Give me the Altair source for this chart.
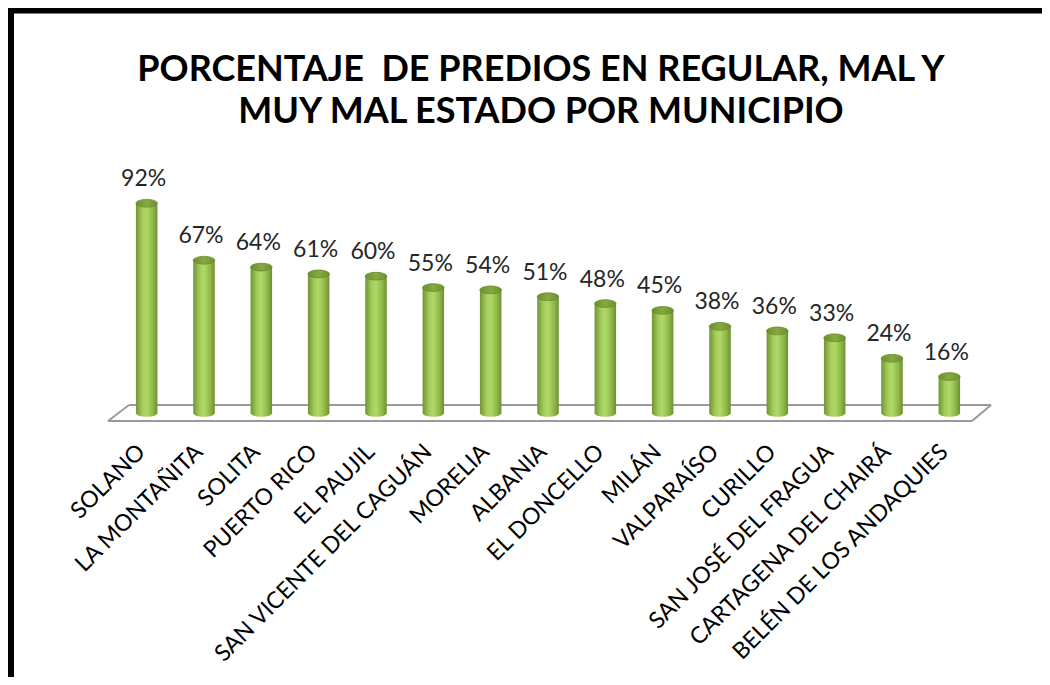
import altair as alt
import pandas as pd

municipios = ["SOLANO", "LA MONTAÑITA", "SOLITA", "PUERTO RICO", "EL PAUJIL",
              "SAN VICENTE DEL CAGUÁN", "MORELIA", "ALBANIA", "EL DONCELLO", "MILÁN",
              "VALPARAÍSO", "CURILLO", "SAN JOSÉ DEL FRAGUA", "CARTAGENA DEL CHAIRÁ",
              "BELÉN DE LOS ANDAQUIES"]
porcentajes = [92, 67, 64, 61, 60, 55, 54, 51, 48, 45, 38, 36, 33, 24, 16]
etiquetas = [f"{v}%" for v in porcentajes]
titulo = ["PORCENTAJE\u00a0 DE PREDIOS EN REGULAR, MAL Y", "MUY MAL ESTADO POR MUNICIPIO"]

df = pd.DataFrame({"municipio": municipios, "valor": porcentajes, "etiqueta": etiquetas,
                   "base": [0] * len(municipios)})

W, H = 860, 228
body_grad = alt.LinearGradient(gradient="linear", x1=0, y1=0, x2=1, y2=0,
             stops=[alt.GradientStop(offset=0, color="#6f9530"),
                    alt.GradientStop(offset=0.3, color="#a6cb5c"),
                    alt.GradientStop(offset=0.5, color="#addb66"),
                    alt.GradientStop(offset=0.8, color="#8fb548"),
                    alt.GradientStop(offset=1, color="#6c902f")])
cap_grad = alt.LinearGradient(gradient="linear", x1=0, y1=0, x2=1, y2=0,
            stops=[alt.GradientStop(offset=0, color="#6c8f2e"),
                   alt.GradientStop(offset=0.5, color="#86aa40"),
                   alt.GradientStop(offset=1, color="#6c8f2e")])
ellipse = "M -1 0 A 1 0.36 0 1 0 1 0 A 1 0.36 0 1 0 -1 0 Z"

x_enc = alt.X("municipio:N", sort=municipios, scale=alt.Scale(paddingInner=0, paddingOuter=0),
              axis=alt.Axis(title=None, labelAngle=-45, labelAlign="right", labelBaseline="middle",
                            labelFont="Lato", labelFontSize=23, labelColor="#000000",
                            labelPadding=35, labelOffset=-5, domain=False, ticks=False,
                            labelOverlap=False, labelLimit=500))
y_scale = alt.Scale(domain=[0, 100])

base = alt.Chart(df)
one = alt.Chart(pd.DataFrame({"a": [0]}))

floor_col = "#9a9a9a"
f1 = one.mark_rule(color=floor_col, strokeWidth=2).encode(x=alt.value(11), x2=alt.value(873), y=alt.value(220))
f2 = one.mark_rule(color=floor_col, strokeWidth=2).encode(x=alt.value(-10), x2=alt.value(854), y=alt.value(236))
f3 = one.mark_rule(color=floor_col, strokeWidth=2).encode(x=alt.value(-10), x2=alt.value(11), y=alt.value(236), y2=alt.value(220))
f4 = one.mark_rule(color=floor_col, strokeWidth=2).encode(x=alt.value(854), x2=alt.value(873), y=alt.value(236), y2=alt.value(220))

bottom_cap = base.mark_point(shape=ellipse, size=460, filled=True, fill=body_grad, opacity=1, strokeWidth=0).encode(
    x=x_enc, y=alt.Y("base:Q", scale=y_scale, axis=None))
body = base.mark_bar(width=21.5, fill=body_grad).encode(
    x=x_enc, y=alt.Y("valor:Q", scale=y_scale, axis=None))
top_cap = base.mark_point(shape=ellipse, size=460, filled=True, fill=cap_grad, opacity=1,
                          stroke="#6a8c2c", strokeWidth=0.8).encode(
    x=x_enc, y=alt.Y("valor:Q", scale=y_scale, axis=None))
labels = base.mark_text(font="Lato", fontSize=23, color="#262626", dy=-24, dx=-3).encode(
    x=x_enc, y=alt.Y("valor:Q", scale=y_scale, axis=None), text="etiqueta:N")

t1 = one.mark_text(text=titulo[0], font="Lato", fontSize=36, fontWeight="bold", color="#000000",
                   align="center", baseline="middle").encode(x=alt.value(423), y=alt.value(-115))
t2 = one.mark_text(text=titulo[1], font="Lato", fontSize=36, fontWeight="bold", color="#000000",
                   align="center", baseline="middle").encode(x=alt.value(423), y=alt.value(-73))

r1 = one.mark_rule(color="#000000", strokeWidth=6).encode(x=alt.value(-107), y=alt.value(-185), y2=alt.value(500))
r2 = one.mark_rule(color="#000000", strokeWidth=6).encode(x=alt.value(-115), x2=alt.value(940), y=alt.value(-174.5))

chart = alt.layer(f1, f2, f3, f4, bottom_cap, body, top_cap, labels, t1, t2, r1, r2).properties(
    width=W, height=H,
    autosize=alt.AutoSizeParams(type="none"),
    padding={"left": 110, "top": 177, "right": 64, "bottom": 264},
    background="#ffffff",
).configure_view(stroke=None)

chart.save("out.html", embed_options={"renderer": "svg", "actions": False})
